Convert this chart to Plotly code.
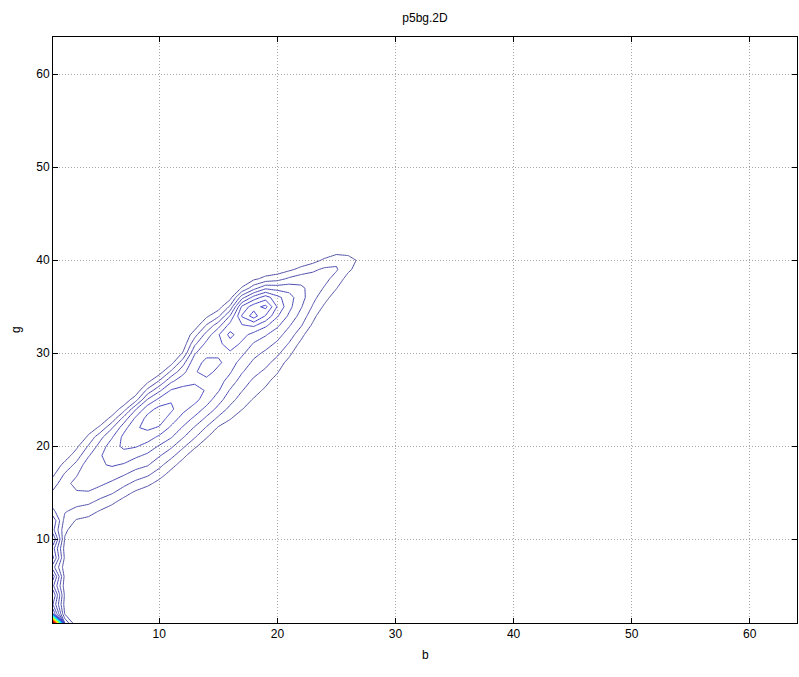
import numpy as np
import plotly.graph_objects as go

# ---- text ----
title_text = "p5bg.2D"
x_label = "b"
y_label = "g"
tick_vals = [10, 20, 30, 40, 50, 60]
n_bins = 64
level_start, level_end, level_step = 1, 50, 1

# ---- 2-D histogram, column by column (b), starting at row g0 ----
col_b = list(range(1, 28))
col_g0 = [1, 1, 11, 11, 12, 13, 14, 15, 15, 16, 17, 18, 19, 20, 21,
          22, 23, 24, 25, 27, 29, 31, 33, 35, 36, 38, 39]
col_counts = [
    [51, 7, 5, 6, 4.2, 5.5, 3.4, 5.2, 4.4, 6.1, 4.3, 4.8, 3.2, 2.6, 2.2, 1.5, 0.8, 0.3],
    [3, 0.9, 0.6, 0.8, 0.5, 0.7, 0.4, 0.8, 0.6, 0.9, 1.2, 1.6, 2.1, 2.6, 2.9, 2.7, 2.1, 1.3, 0.5],
    [0.4, 0.9, 1.6, 2.4, 2.9, 3.3, 2.9, 2.3, 1.5, 0.8],
    [0.2, 0.7, 1.4, 2.2, 2.9, 3.5, 3.8, 3.6, 2.9, 2.1, 1.2, 0.4],
    [0.4, 0.9, 1.7, 2.5, 3.2, 3.6, 3.9, 3.9, 3.4, 2.7, 1.2, 0.3],
    [0.5, 1.2, 2.1, 2.8, 3.5, 4.1, 4.6, 4.6, 3.9, 2.9, 1.3, 0.3],
    [0.6, 1.4, 2.3, 3.1, 3.9, 4.6, 5.2, 5.3, 4.6, 3.4, 1.5, 0.3],
    [0.8, 1.7, 2.6, 3.4, 4.2, 5.1, 5.7, 5.9, 5.2, 3.9, 1.6, 0.3],
    [0.3, 1.3, 2.2, 3.1, 3.8, 4.6, 5.5, 6.2, 6.3, 5.6, 4.1, 2.3, 0.7],
    [0.6, 1.5, 2.3, 3.1, 3.9, 4.8, 5.9, 6.5, 6.3, 5.3, 3.8, 2.1, 0.5],
    [0.6, 1.4, 2.3, 3.2, 4.1, 4.8, 5.6, 6.2, 5.9, 5.1, 3.8, 2.2, 0.6],
    [0.5, 1.3, 2.2, 3.1, 3.9, 4.6, 5.3, 5.6, 5.3, 4.6, 3.7, 2.6, 1.1, 0.3],
    [0.3, 1.2, 2.1, 2.9, 3.8, 4.6, 5.3, 5.4, 4.8, 4.9, 4.7, 3.9, 2.8, 1.6, 0.4],
    [0.3, 1.1, 1.9, 2.8, 3.7, 4.5, 4.9, 4.7, 5.4, 5.2, 4.8, 4.3, 3.4, 2.1, 0.8],
    [0.2, 0.9, 1.8, 2.7, 3.4, 4.1, 4.4, 4.7, 5.2, 4.8, 4.7, 4.9, 3.6, 1.8, 0.5],
    [0.3, 1.1, 1.7, 2.4, 2.9, 3.6, 4.1, 4.5, 4.8, 5.6, 6.3, 5.4, 4.1, 2.2, 0.6],
    [0.3, 1.05, 1.5, 2.05, 2.5, 3.1, 3.6, 4.2, 4.8, 5.4, 5.9, 7.1, 6.2, 3.6, 1.1, 0.2],
    [0.4, 0.9, 1.4, 1.8, 2.3, 2.8, 3.3, 3.9, 4.6, 6.2, 8.5, 7.6, 5.4, 2.6, 0.8],
    [0.3, 0.8, 1.3, 1.8, 2.3, 2.8, 3.4, 4.1, 5.2, 6.9, 8.3, 6.5, 3.8, 1.3, 0.3],
    [0.5, 1.1, 1.6, 2.2, 2.8, 3.4, 4.2, 5.1, 5.9, 5.3, 3.6, 1.6, 0.4],
    [0.6, 1.3, 1.9, 2.5, 3.1, 3.8, 4.3, 4.4, 3.6, 2.2, 0.8],
    [0.7, 1.4, 2.1, 2.6, 3.1, 3.4, 3.2, 2.6, 1.3, 0.3],
    [0.8, 1.4, 1.9, 2.3, 2.6, 2.5, 1.8, 0.6],
    [0.8, 1.4, 1.9, 2.3, 2.2, 1.2, 0.2],
    [0.4, 1.05, 1.6, 2.1, 1.8, 0.5],
    [0.6, 1.2, 1.4, 0.6],
    [0.5, 0.8, 0.3],
]

# ---- build the matrix the contour trace needs ----
z = np.zeros((n_bins, n_bins))
for b, g0, vals in zip(col_b, col_g0, col_counts):
    for k, v in enumerate(vals):
        z[g0 + k - 1, b - 1] = v
axis_vals = list(range(1, n_bins + 1))

jet = [
    [0.0, "rgb(80,80,165)"],
    [0.18, "rgb(60,60,215)"],
    [0.375, "rgb(0,255,255)"],
    [0.625, "rgb(255,255,0)"],
    [0.875, "rgb(255,0,0)"],
    [1.0, "rgb(128,0,0)"],
]

fig = go.Figure(
    go.Contour(
        x=axis_vals,
        y=axis_vals,
        z=z,
        zmin=level_start,
        zmax=level_end,
        colorscale=jet,
        contours=dict(start=level_start, end=level_end, size=level_step, coloring="lines"),
        line=dict(width=1, smoothing=0),
        showscale=False,
        hoverinfo="skip",
    )
)

font = dict(family="Liberation Sans, Arial, sans-serif", size=12, color="black")
axis_common = dict(
    tickvals=tick_vals,
    ticks="inside",
    ticklen=5,
    tickcolor="black",
    showline=True,
    linecolor="black",
    linewidth=1,
    mirror="ticks",
    showgrid=True,
    gridcolor="#a8a8a8",
    griddash="1px,2px",
    gridwidth=1,
    zeroline=False,
    tickfont=font,
)

fig.update_layout(
    width=799,
    height=677,
    margin=dict(l=53, r=2, t=37, b=54),
    paper_bgcolor="white",
    plot_bgcolor="white",
    font=font,
    showlegend=False,
    xaxis=dict(range=[1, 64], **axis_common),
    yaxis=dict(range=[1, 64], **axis_common),
    title=dict(text=title_text, x=0.5, xref="paper", y=1 - 18 / 677, yref="container",
               xanchor="center", yanchor="middle", font=font),
    annotations=[
        dict(text=x_label, x=0.5, y=0, xref="paper", yref="paper", showarrow=False,
             xanchor="center", yanchor="middle", yshift=-32, font=font),
        dict(text=y_label, x=0, y=0.5, xref="paper", yref="paper", showarrow=False,
             xanchor="center", yanchor="middle", xshift=-37, textangle=-90, font=font),
    ],
)

fig.write_html("out.html")
